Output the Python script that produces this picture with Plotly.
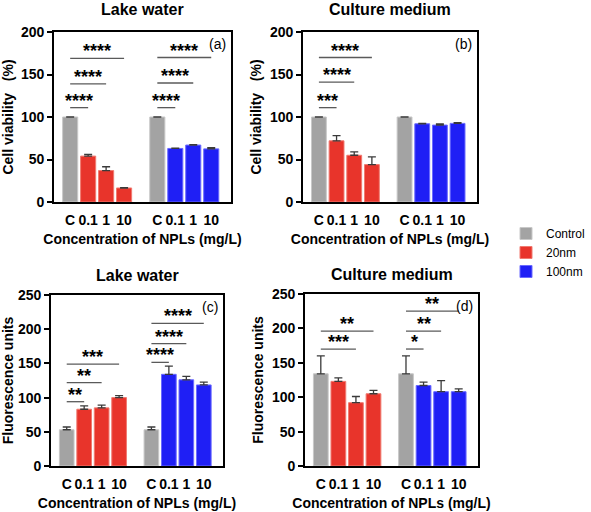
import plotly.graph_objects as go

# ---------------- data ----------------
groups = ["Control", "20nm", "100nm"]
doses = ["C", "0.1", "1", "10"]
panel_titles = ["Lake water", "Culture medium", "Lake water", "Culture medium"]
panel_tags = ["(a)", "(b)", "(c)", "(d)"]
y_titles = ["Cell viability\u00a0\u00a0\u00a0(%)", "Cell viability\u00a0\u00a0\u00a0(%)",
            "Fluorescence units", "Fluorescence units"]
x_title = "Concentration of NPLs (mg/L)"

# control values for [20nm group, 100nm group]
ctrl_a = [100, 100];  ctrl_a_err = [0, 0]
ctrl_b = [100, 100];  ctrl_b_err = [0, 0]
ctrl_c = [53, 53];    ctrl_c_err = [4, 4]
ctrl_d = [134, 134];  ctrl_d_err = [26, 26]

nm20_a = [54, 37, 16.5];   nm20_a_err = [2, 4.5, 0.5]
nm100_a = [63, 67, 62.5];  nm100_a_err = [0.5, 0.5, 1.5]
nm20_b = [72, 55, 44];     nm20_b_err = [6, 4, 9]
nm100_b = [92, 90.5, 92.5];nm100_b_err = [0.5, 1.5, 1]
nm20_c = [83, 85, 100];    nm20_c_err = [5, 4, 3]
nm100_c = [134, 126, 118.5]; nm100_c_err = [12, 5, 4]
nm20_d = [123, 92, 105];   nm20_d_err = [5, 9, 5]
nm100_d = [117, 108, 108]; nm100_d_err = [5, 16, 4]

# significance: (group 0=20nm/1=100nm, to-dose index, y level, label)
sig_a = [(0, 1, 111, "****"), (0, 2, 139, "****"), (0, 3, 169, "****"),
         (1, 1, 111, "****"), (1, 2, 140, "****"), (1, 3, 170, "****")]
sig_b = [(0, 1, 111, "***"), (0, 2, 141, "****"), (0, 3, 170, "****")]
sig_c = [(0, 1, 94, "**"), (0, 2, 122, "**"), (0, 3, 149, "***"),
         (1, 1, 151.5, "****"), (1, 2, 179, "****"), (1, 3, 208.5, "****")]
sig_d = [(0, 2, 170, "***"), (0, 3, 196, "**"),
         (1, 1, 170, "*"), (1, 2, 196, "**"), (1, 3, 225, "**")]

y_max = [200, 200, 250, 250]
y_dtick = [50, 50, 50, 50]

panels = [
    (ctrl_a, ctrl_a_err, nm20_a, nm20_a_err, nm100_a, nm100_a_err, sig_a),
    (ctrl_b, ctrl_b_err, nm20_b, nm20_b_err, nm100_b, nm100_b_err, sig_b),
    (ctrl_c, ctrl_c_err, nm20_c, nm20_c_err, nm100_c, nm100_c_err, sig_c),
    (ctrl_d, ctrl_d_err, nm20_d, nm20_d_err, nm100_d, nm100_d_err, sig_d),
]

# ---------------- style ----------------
W, H = 591, 512
colors = {"Control": "#a3a3a3", "20nm": "#e8342b", "100nm": "#1f1ff5"}
edge = {"Control": "#c8c8c8", "20nm": "#f07a70", "100nm": "#6a6aff"}
FONT = "Liberation Sans"
group_gap = 1.85
bar_w = 0.84

# pixel boxes: (x0, x1, ytop, ybottom, title gap)
boxes = [(54, 231, 32, 202, 12), (303, 477, 32, 202, 12),
         (51, 223, 295, 466, 9), (305, 478, 294, 466, 9)]


def xpos(group, i):
    return group * (len(doses) - 1 + group_gap) + i


fig = go.Figure()
shapes = []
annotations = []

for p, (ctrl, ctrl_err, v20, e20, v100, e100, sigs) in enumerate(panels):
    sfx = "" if p == 0 else str(p + 1)
    xa, ya = "x" + sfx, "y" + sfx
    err_style = dict(type="data", symmetric=False, color="#3a3a3a",
                     thickness=1.3, width=4)
    cx = [xpos(0, 0), xpos(1, 0)]
    fig.add_trace(go.Bar(
        x=cx, y=ctrl, width=bar_w, name="Control", xaxis=xa, yaxis=ya,
        marker=dict(color=colors["Control"], line=dict(color=edge["Control"], width=1)),
        error_y=dict(array=ctrl_err, arrayminus=[0] * 2, **err_style),
        showlegend=(p == 0), legendgroup="Control"))
    fig.add_trace(go.Bar(
        x=[xpos(0, i) for i in range(1, 4)], y=v20, width=bar_w, name="20nm",
        xaxis=xa, yaxis=ya,
        marker=dict(color=colors["20nm"], line=dict(color=edge["20nm"], width=1)),
        error_y=dict(array=e20, arrayminus=[0] * 3, **err_style),
        showlegend=(p == 0), legendgroup="20nm"))
    fig.add_trace(go.Bar(
        x=[xpos(1, i) for i in range(1, 4)], y=v100, width=bar_w, name="100nm",
        xaxis=xa, yaxis=ya,
        marker=dict(color=colors["100nm"], line=dict(color=edge["100nm"], width=1)),
        error_y=dict(array=e100, arrayminus=[0] * 3, **err_style),
        showlegend=(p == 0), legendgroup="100nm"))

    x0, x1, yt, yb, tg = boxes[p]
    tickvals = [xpos(g, i) for g in range(2) for i in range(4)]
    ticktext = doses * 2
    axis_common = dict(showline=True, linecolor="black", linewidth=1.6, mirror=True,
                       showgrid=False, zeroline=False, automargin=False)
    fig.layout["xaxis" + sfx] = dict(
        domain=[x0 / W, x1 / W], anchor=ya, range=[-0.9, xpos(1, 3) + 1.1],
        tickvals=tickvals, ticktext=ticktext, ticks="", ticklabelstandoff=4,
        tickfont=dict(family=FONT, size=14, color="black", weight="bold"),
        title=dict(text=x_title, standoff=8,
                   font=dict(family=FONT, size=14, color="black", weight="bold")),
        **axis_common)
    fig.layout["yaxis" + sfx] = dict(
        domain=[1 - yb / H, 1 - yt / H], anchor=xa, range=[0, y_max[p]],
        dtick=y_dtick[p], ticks="outside", ticklen=5, tickwidth=1.6, tickcolor="black",
        tickfont=dict(family=FONT, size=14, color="black", weight="bold"),
        title=dict(text=y_titles[p], standoff=5,
                   font=dict(family=FONT, size=14, color="black", weight="bold")),
        **axis_common)

    # panel title
    annotations.append(dict(
        text=panel_titles[p], xref="paper", yref="paper",
        x=(x0 + x1) / 2 / W, y=1 - (yt - tg) / H, xanchor="center", yanchor="bottom",
        showarrow=False, font=dict(family=FONT, size=16, color="black", weight="bold")))
    # panel tag
    annotations.append(dict(
        text=panel_tags[p], xref=xa + " domain", yref=ya + " domain",
        x=0.985, y=0.99, xanchor="right", yanchor="top", showarrow=False,
        font=dict(family=FONT, size=14, color="black")))

    # significance brackets
    for g, j, lvl, lab in sigs:
        xs, xe = xpos(g, 0), xpos(g, j)
        shapes.append(dict(type="line", xref=xa, yref=ya, x0=xs, x1=xe, y0=lvl, y1=lvl,
                           line=dict(color="#5a5a5a", width=1.3)))
        annotations.append(dict(
            text=lab, xref=xa, yref=ya, x=(xs + xe) / 2, y=lvl,
            xanchor="center", yanchor="bottom", yshift=-5, showarrow=False,
            font=dict(family=FONT, size=18, color="black", weight="bold")))

fig.update_layout(
    width=W, height=H, margin=dict(l=0, r=0, t=0, b=0, autoexpand=False),
    paper_bgcolor="white", plot_bgcolor="white", barmode="overlay",
    shapes=shapes, annotations=annotations,
    legend=dict(x=506 / W, y=1 - 219 / H, xanchor="left", yanchor="top",
                font=dict(family=FONT, size=12, color="black"),
                tracegroupgap=0, itemwidth=30, bgcolor="rgba(0,0,0,0)"),
)

fig.write_html("out.html", config={"displayModeBar": False},
               post_script="document.body.style.margin='0';"
                           "document.body.style.overflow='hidden';")
